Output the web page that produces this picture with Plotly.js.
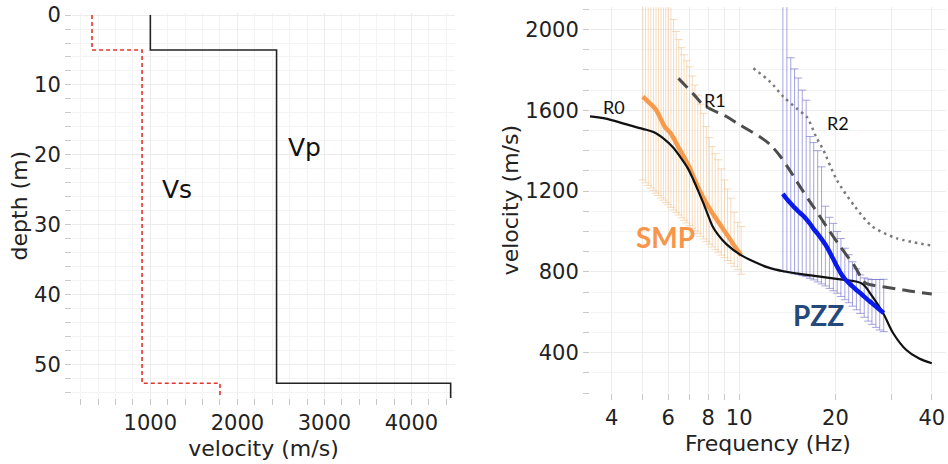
<!DOCTYPE html>
<html><head><meta charset="utf-8">
<script src="https://cdn.plot.ly/plotly-3.0.1.min.js"></script>
<style>html,body{margin:0;padding:0;background:#fff}#chart{width:948px;height:464px}</style>
</head><body><div id="chart"></div>
<script>
// ---- Left panel: layered velocity model ----
const layerTop = [0, 5, 52.7];
const maxDepth = 55;
const vsLayer = [330, 905, 1800];
const vpLayer = [1000, 2450, 4450];

// ---- Right panel: dispersion curves ----
const r0Freq = [3.42, 3.8, 4.45, 5.0, 5.4, 5.86, 6.2, 6.54, 6.9, 7.2, 7.5, 7.73, 8.0, 8.26, 8.6, 9.14, 10.1, 11.1, 12.3, 13.75, 16.3, 20.7, 23.2, 24.4, 26.1, 28.2, 30.3, 33.3, 36.4, 40];
const r0Vel  = [1570, 1560, 1530, 1508, 1492, 1455, 1418, 1370, 1315, 1255, 1190, 1140, 1080, 1026, 983, 936, 884, 851, 822, 803, 785, 763, 752, 738, 677, 595, 496, 413, 372, 347];

const r1Freq = [6.46, 7.2, 7.74, 9.15, 10.07, 11.6, 12.5, 13.4, 14.3, 15.5, 16.6, 17.9, 19.2, 20.7, 22.2, 23.0, 24.0, 24.8, 26.5, 28.8, 32.6, 40];
const r1Vel  = [1758, 1680, 1626, 1568, 1527, 1469, 1430, 1375, 1310, 1222, 1150, 1073, 1000, 925, 860, 826, 775, 745, 732, 724, 710, 690];

const r2Freq = [11.08, 12.5, 13.75, 15.1, 16.3, 17.4, 18.3, 20.2, 23.0, 26.1, 31.1, 40];
const r2Vel  = [1808, 1741, 1667, 1610, 1565, 1469, 1405, 1255, 1123, 1024, 966, 930];

// SMP picks with uncertainty bounds
const smpFreq = [5.0, 5.1, 5.2, 5.3, 5.4, 5.5, 5.6, 5.7, 5.8, 5.9, 6.0, 6.12, 6.24, 6.36, 6.48, 6.6, 6.73, 6.86, 7.0, 7.14, 7.28, 7.43, 7.58, 7.74, 7.9, 8.07, 8.24, 8.42, 8.6, 8.8, 9.0, 9.2, 9.42, 9.65, 9.9, 10.15];
const smpVel  = [1668, 1655, 1642, 1630, 1617, 1603, 1580, 1555, 1530, 1512, 1500, 1485, 1462, 1438, 1414, 1392, 1368, 1343, 1316, 1285, 1253, 1222, 1193, 1165, 1140, 1115, 1092, 1070, 1048, 1025, 1002, 980, 955, 930, 905, 882];
const smpUpper = [2500, 2500, 2500, 2500, 2500, 2500, 2500, 2500, 2500, 2500, 2300, 2150, 2050, 1990, 1950, 1910, 1875, 1845, 1815, 1770, 1725, 1675, 1630, 1585, 1520, 1465, 1420, 1385, 1355, 1310, 1255, 1210, 1165, 1095, 1045, 1025];
const smpLower = [1255, 1241, 1228, 1215, 1203, 1190, 1178, 1166, 1155, 1143, 1132, 1119, 1106, 1093, 1081, 1068, 1055, 1042, 1029, 1016, 1003, 990, 976, 963, 950, 937, 923, 910, 897, 883, 870, 856, 842, 827, 810, 788];

// PZZ picks with uncertainty bounds
const pzzFreq = [13.7, 14.1, 14.5, 14.9, 15.3, 15.75, 16.2, 16.65, 17.1, 17.6, 18.1, 18.6, 19.15, 19.7, 20.25, 20.8, 21.4, 22.0, 22.6, 23.25, 23.9, 24.6, 25.3, 26.0, 26.75, 27.5, 28.3];
const pzzVel  = [1186, 1160, 1138, 1118, 1100, 1082, 1062, 1038, 1012, 988, 962, 935, 900, 862, 825, 792, 765, 745, 728, 710, 695, 677, 660, 645, 628, 612, 596];
const pzzUpper = [2500, 2500, 1860, 1805, 1760, 1700, 1650, 1470, 1440, 1400, 1320, 1125, 1070, 1040, 1000, 965, 917, 885, 850, 815, 785, 770, 765, 762, 762, 762, 763];
const pzzLower = [801, 798, 795, 790, 786, 781, 776, 768, 760, 750, 740, 730, 718, 706, 694, 678, 662, 647, 630, 612, 594, 575, 556, 540, 525, 512, 504];

const FONT = 'DejaVu Sans';
const TICKC = '#222';

function stepX(v) { return v.concat([v[v.length - 1]]); }
function stepY(t) { return t.concat([maxDepth]); }
function plus(v, u) { return v.map((x, i) => u[i] - x); }
function minus(v, l) { return v.map((x, i) => x - l[i]); }

const traces = [
  {x: stepX(vsLayer), y: stepY(layerTop), xaxis: 'x', yaxis: 'y', mode: 'lines',
   line: {shape: 'vh', color: '#e3342b', width: 1.6, dash: '4px,3px'}, hoverinfo: 'skip'},
  {x: stepX(vpLayer), y: stepY(layerTop), xaxis: 'x', yaxis: 'y', mode: 'lines',
   line: {shape: 'vh', color: '#222', width: 1.6}, hoverinfo: 'skip'},

  {x: smpFreq, y: smpVel, xaxis: 'x2', yaxis: 'y2', mode: 'markers',
   marker: {size: 1, color: 'rgba(0,0,0,0)'},
   error_y: {type: 'data', symmetric: false, array: plus(smpVel, smpUpper), arrayminus: minus(smpVel, smpLower),
             color: 'rgba(238,192,135,0.55)', thickness: 1, width: 4}},
  {x: pzzFreq, y: pzzVel, xaxis: 'x2', yaxis: 'y2', mode: 'markers',
   marker: {size: 1, color: 'rgba(0,0,0,0)'},
   error_y: {type: 'data', symmetric: false, array: plus(pzzVel, pzzUpper), arrayminus: minus(pzzVel, pzzLower),
             color: 'rgba(110,110,205,0.62)', thickness: 1, width: 4}},

  {x: smpFreq, y: smpVel, xaxis: 'x2', yaxis: 'y2', mode: 'lines',
   line: {color: '#f79a4c', width: 4.5, shape: 'spline', smoothing: 0.6}},
  {x: r1Freq, y: r1Vel, xaxis: 'x2', yaxis: 'y2', mode: 'lines',
   line: {color: '#4d4d4d', width: 3, dash: '13px,7px', shape: 'spline', smoothing: 0.8}},
  {x: r2Freq, y: r2Vel, xaxis: 'x2', yaxis: 'y2', mode: 'lines',
   line: {color: '#7a7a7a', width: 2.5, dash: '2.5px,4px', shape: 'spline', smoothing: 0.8}},
  {x: r0Freq, y: r0Vel, xaxis: 'x2', yaxis: 'y2', mode: 'lines',
   line: {color: '#111', width: 2.2, shape: 'spline', smoothing: 1}},
  {x: pzzFreq, y: pzzVel, xaxis: 'x2', yaxis: 'y2', mode: 'lines',
   line: {color: '#0a1aea', width: 4.5, shape: 'spline', smoothing: 0.6}}
];

const grid = '#ececec';
const minorGrid = '#f3f3f3';

const layout = {
  width: 948, height: 464,
  margin: {l: 0, r: 0, t: 0, b: 0},
  paper_bgcolor: '#fff', plot_bgcolor: '#fff',
  showlegend: false,
  font: {family: FONT, color: TICKC, size: 21},
  xaxis: {
    domain: [72/948, 455/948], range: [100, 4500],
    tick0: 0, dtick: 1000, ticks: 'outside', ticklen: 6, tickcolor: '#c8c8c8',
    showgrid: true, gridcolor: grid, zeroline: false, showline: false,
    tickfont: {family: FONT, size: 21, color: TICKC},
    minor: {dtick: 200, ticks: 'outside', ticklen: 6, tickcolor: '#c8c8c8', showgrid: true, gridcolor: minorGrid},
    title: {text: 'velocity (m/s)', font: {family: FONT, size: 22, color: TICKC}, standoff: 6},
    anchor: 'y'
  },
  yaxis: {
    domain: [1 - 398/464, 1 - 13.3/464], range: [54.8, -0.25],
    tick0: 0, dtick: 10, ticks: 'outside', ticklen: 6, tickcolor: '#c8c8c8',
    showgrid: true, gridcolor: grid, zeroline: false, showline: false,
    tickfont: {family: FONT, size: 21, color: TICKC},
    minor: {dtick: 2, ticks: 'outside', ticklen: 6, tickcolor: '#c8c8c8', showgrid: true, gridcolor: minorGrid},
    title: {text: 'depth (m)', font: {family: FONT, size: 22, color: TICKC}, standoff: 0},
    anchor: 'x'
  },
  xaxis2: {
    type: 'log', domain: [590/948, 946/948], range: [Math.log10(3.42), Math.log10(44.3)],
    tickmode: 'array', tickvals: [4, 5, 6, 7, 8, 9, 10, 20, 30, 40],
    ticktext: ['4', '', '6', '', '8', '', '10', '20', '', '40'],
    ticks: 'outside', ticklen: 6, tickcolor: '#c8c8c8',
    showgrid: true, gridcolor: grid, zeroline: false, showline: false,
    tickfont: {family: FONT, size: 21, color: TICKC},
    title: {text: 'Frequency (Hz)', font: {family: FONT, size: 22, color: TICKC}, standoff: 6},
    anchor: 'y2'
  },
  yaxis2: {
    domain: [1 - 393/464, 1 - 7.3/464], range: [200, 2110],
    tick0: 0, dtick: 400, ticks: 'outside', ticklen: 6, tickcolor: '#c8c8c8',
    showgrid: true, gridcolor: grid, zeroline: false, showline: false,
    tickfont: {family: FONT, size: 21, color: TICKC},
    minor: {dtick: 100, ticks: 'outside', ticklen: 6, tickcolor: '#c8c8c8', showgrid: true, gridcolor: minorGrid},
    title: {text: 'velocity (m/s)', font: {family: FONT, size: 22, color: TICKC}, standoff: 0},
    anchor: 'x2'
  },
  annotations: [
    {text: 'Vs', x: 1307, y: 24.9, xref: 'x', yref: 'y', showarrow: false, font: {family: FONT, size: 25, color: '#111'}},
    {text: 'Vp', x: 2767, y: 18.9, xref: 'x', yref: 'y', showarrow: false, font: {family: FONT, size: 25, color: '#111'}},
    {text: 'R0', x: Math.log10(4.07), y: 1615, xref: 'x2', yref: 'y2', showarrow: false, font: {family: 'Lato', size: 18, color: '#111'}},
    {text: 'R1', x: Math.log10(8.4), y: 1651, xref: 'x2', yref: 'y2', showarrow: false, font: {family: 'Lato', size: 18, color: '#111'}},
    {text: 'R2', x: Math.log10(20.3), y: 1535, xref: 'x2', yref: 'y2', showarrow: false, font: {family: 'Lato', size: 18, color: '#111'}},
    {text: '<b>SMP</b>', x: Math.log10(5.87), y: 971, xref: 'x2', yref: 'y2', showarrow: false, font: {family: 'Lato', size: 28, color: '#f7964a'}},
    {text: '<b>PZZ</b>', x: Math.log10(17.7), y: 587, xref: 'x2', yref: 'y2', showarrow: false, font: {family: 'Lato', size: 28, color: '#24497a'}}
  ]
};

Plotly.newPlot('chart', traces, layout, {staticPlot: true, displayModeBar: false});
</script>
</body></html>
